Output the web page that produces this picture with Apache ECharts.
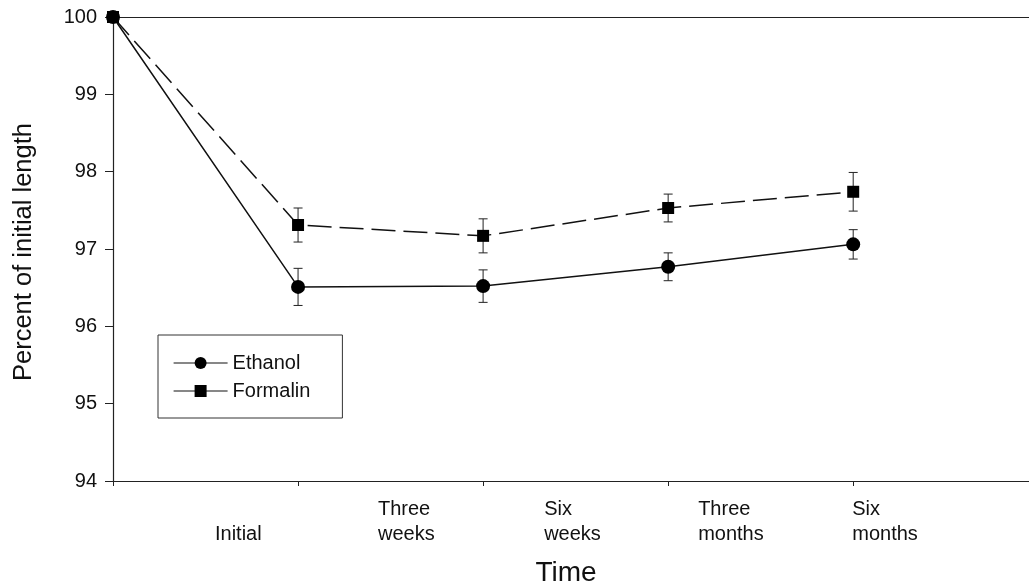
<!DOCTYPE html>
<html>
<head>
<meta charset="utf-8">
<script src="https://cdn.jsdelivr.net/npm/echarts@6/dist/echarts.min.js"></script>
<style>
html,body{margin:0;padding:0;background:#fff;}
#chart{width:1029px;height:588px;}
</style>
</head>
<body>
<div id="chart"></div>
<script>
// ---- data ----
const categories = ['Initial', 'Three weeks', 'Six weeks', 'Three months', 'Six months'];
const timePoints = [0, 1, 2, 3, 4];
const ethanolMean = [100, 96.51, 96.52, 96.77, 97.06];
const ethanolErr = [0, 0.24, 0.21, 0.18, 0.19];
const formalinMean = [100, 97.31, 97.17, 97.53, 97.74];
const formalinErr = [0, 0.22, 0.22, 0.18, 0.25];
const yTicks = [94, 95, 96, 97, 98, 99, 100];

// label anchors (layout)
const labelAnchors = [0.551, 1.432, 2.33, 3.162, 3.995];

function labelText(v) {
  let best = 0, bd = 1e9;
  labelAnchors.forEach((a, i) => { const d = Math.abs(a - v); if (d < bd) { bd = d; best = i; } });
  const parts = categories[best].split(' ');
  return parts.length > 1 ? parts.join('\n') : '\n' + parts[0];
}

function errData(means, errs) {
  return timePoints.map((t, i) => [t, means[i], errs[i]]).filter(d => d[2] > 0);
}

function errRender(params, api) {
  const x = api.value(0), m = api.value(1), e = api.value(2);
  const top = api.coord([x, m + e]);
  const bot = api.coord([x, m - e]);
  const hw = 4.5;
  const st = { stroke: '#222', lineWidth: 1 };
  return {
    type: 'group',
    children: [
      { type: 'line', shape: { x1: top[0], y1: top[1], x2: bot[0], y2: bot[1] }, style: st },
      { type: 'line', shape: { x1: top[0] - hw, y1: top[1], x2: top[0] + hw, y2: top[1] }, style: st },
      { type: 'line', shape: { x1: bot[0] - hw, y1: bot[1], x2: bot[0] + hw, y2: bot[1] }, style: st }
    ]
  };
}

const font = 'Liberation Sans, Arial, sans-serif';
const chart = echarts.init(document.getElementById('chart'), null, { renderer: 'canvas' });
chart.setOption({
  animation: false,
  backgroundColor: '#fff',
  textStyle: { fontFamily: font, color: '#111' },
  grid: { left: 113, right: 0, top: 17, bottom: 107, containLabel: false, outerBoundsMode: 'none' },
  legend: {
    orient: 'vertical',
    left: 158, top: 335,
    padding: [18, 32, 17, 15],
    borderColor: '#333', borderWidth: 1,
    itemWidth: 54, itemHeight: 15, itemGap: 8,
    textStyle: { fontSize: 20, color: '#111', fontFamily: font, lineHeight: 20 },
    lineStyle: { type: 'solid', width: 1.2 },
    data: ['Ethanol', 'Formalin']
  },
  xAxis: [{
    type: 'value', min: 0, max: 4.95,
    name: 'Time', nameLocation: 'middle', nameGap: 78,
    nameTextStyle: { fontSize: 28, color: '#111', fontFamily: font, padding: [0, 10, 0, 0] },
    axisLine: { show: true, lineStyle: { color: '#222', width: 1.2 } },
    axisTick: { show: true, length: 5, customValues: timePoints, lineStyle: { color: '#222' } },
    splitLine: { show: false },
    axisLabel: {
      customValues: labelAnchors, align: 'left', margin: 16,
      fontSize: 20, lineHeight: 25, color: '#111', fontFamily: font,
      formatter: labelText
    }
  }, {
    type: 'value', min: 0, max: 4.95, position: 'top',
    axisLine: { show: true, onZero: false, lineStyle: { color: '#222', width: 1.2 } },
    axisTick: { show: false }, axisLabel: { show: false }, splitLine: { show: false }
  }],
  yAxis: {
    type: 'value', min: 94, max: 100, interval: 1,
    name: 'Percent of initial length', nameLocation: 'middle', nameGap: 76,
    nameTextStyle: { fontSize: 25.5, color: '#111', fontFamily: font, padding: [0, 6, 0, 0] },
    axisLine: { show: true, lineStyle: { color: '#222', width: 1.2 } },
    axisTick: { show: true, length: 8, lineStyle: { color: '#222' } },
    splitLine: { show: false },
    axisLabel: { fontSize: 20, color: '#111', margin: 16, fontFamily: font,
      customValues: yTicks }
  },
  series: [
    {
      name: 'Ethanol', type: 'line',
      data: timePoints.map((t, i) => [t, ethanolMean[i]]),
      symbol: 'circle', symbolSize: 14,
      itemStyle: { color: '#000' },
      lineStyle: { color: '#111', width: 1.5, type: 'solid' },
      z: 3
    },
    {
      name: 'Formalin', type: 'line',
      data: timePoints.map((t, i) => [t, formalinMean[i]]),
      symbol: 'rect', symbolSize: 12,
      itemStyle: { color: '#000' },
      lineStyle: { color: '#111', width: 1.5, type: [24, 8] },
      z: 3
    },
    {
      name: 'ethErr', type: 'custom', renderItem: errRender,
      data: errData(ethanolMean, ethanolErr), z: 2, silent: true
    },
    {
      name: 'forErr', type: 'custom', renderItem: errRender,
      data: errData(formalinMean, formalinErr), z: 2, silent: true
    }
  ]
});
</script>
</body>
</html>
